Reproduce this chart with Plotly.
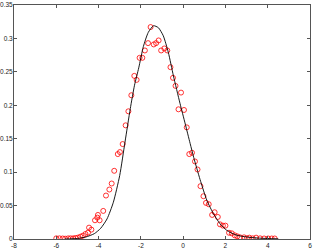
import plotly.graph_objects as go

# Data points (red circles)
data_x = [-6.0, -5.85, -5.7, -5.58, -5.44, -5.32, -5.2, -5.09, -4.98, -4.86, -4.74, -4.62, -4.5,
          -4.45, -4.34, -4.17, -4.06, -4.03, -3.95, -3.78, -3.65, -3.49, -3.38, -3.26, -3.09,
          -2.99, -2.86, -2.72, -2.59, -2.45, -2.31, -2.20, -2.06, -1.93, -1.81, -1.66, -1.54,
          -1.39, -1.28, -1.16, -1.04, -0.89, -0.75, -0.60, -0.48, -0.36, -0.22, -0.10, 0.04,
          0.17, 0.29, 0.42, 0.56, 0.68, 0.82, 0.96, 1.08, 1.21, 1.37, 1.49, 1.64, 1.74, 1.88,
          2.00, 2.17, 2.30, 2.44, 2.56, 2.69, 2.88, 3.01, 3.13, 3.29, 3.45, 3.64, 3.83, 4.02,
          4.19, 4.33]
data_y = [0.001, 0.001, 0.0008, 0.0005, 0.001, 0.001, 0.001, 0.0015, 0.002, 0.0035, 0.005, 0.0075, 0.0095,
          0.017, 0.014, 0.028, 0.032, 0.036, 0.028, 0.042, 0.065, 0.074, 0.083, 0.102, 0.127,
          0.130, 0.142, 0.170, 0.191, 0.215, 0.244, 0.238, 0.271, 0.271, 0.282, 0.293, 0.317,
          0.291, 0.293, 0.297, 0.282, 0.285, 0.282, 0.257, 0.241, 0.229, 0.194, 0.219, 0.193,
          0.167, 0.127, 0.129, 0.116, 0.104, 0.079, 0.064, 0.054, 0.052, 0.036, 0.040, 0.033,
          0.022, 0.020, 0.020, 0.0093, 0.0085, 0.0055, 0.004, 0.0025, 0.0025, 0.001, 0.002,
          0.001, 0.002, 0.001, 0.0008, 0.0008, 0.0008, 0.0008]

# Fitted curve (black line)
curve_x = [-5.6, -5.0, -4.6, -4.2, -3.9, -3.6, -3.3, -3.0, -2.75, -2.5, -2.3, -2.1, -1.88,
           -1.65, -1.4, -1.17, -0.94, -0.7, -0.46, -0.15, 0.1, 0.33, 0.5, 0.8, 1.12, 1.43,
           1.74, 2.06, 2.5, 3.0, 3.5, 4.0, 4.5]
curve_y = [0.0, 0.0008, 0.003, 0.008, 0.016, 0.030, 0.055, 0.095, 0.145, 0.195, 0.230, 0.256, 0.288,
           0.309, 0.319, 0.316, 0.304, 0.279, 0.244, 0.203, 0.172, 0.143, 0.122, 0.089, 0.058, 0.038,
           0.023, 0.013, 0.006, 0.003, 0.0015, 0.0007, 0.0003]

x_ticks = [-8, -6, -4, -2, 0, 2, 4, 6]
y_ticks = [0, 0.05, 0.1, 0.15, 0.2, 0.25, 0.3, 0.35]
y_tick_labels = ["0", "0.05", "0.1", "0.15", "0.2", "0.25", "0.3", "0.35"]

fig = go.Figure()
fig.add_trace(go.Scatter(x=data_x, y=data_y, mode="markers",
                         marker=dict(symbol="circle-open", size=5, color="#ff0000",
                                     line=dict(width=0.8, color="#ff0000")),
                         showlegend=False, hoverinfo="skip"))
fig.add_trace(go.Scatter(x=curve_x, y=curve_y, mode="lines",
                         line=dict(color="#000000", width=0.9, shape="spline", smoothing=0.6),
                         showlegend=False, hoverinfo="skip"))

axis_common = dict(showgrid=False, zeroline=False, showline=True, linecolor="#555555", linewidth=1,
                   mirror="allticks", ticks="inside", ticklen=3, tickcolor="#555555", automargin=False,
                   tickfont=dict(family="Liberation Sans, Arial, sans-serif", size=6.5, color="#222222"))
fig.update_xaxes(range=[-8, 6], tickvals=x_ticks, ticktext=[str(v) for v in x_ticks], **axis_common)
fig.update_yaxes(range=[0, 0.35], tickvals=y_ticks, ticktext=y_tick_labels,
                 ticklabelstandoff=-1, **axis_common)

fig.update_layout(width=316, height=250, margin=dict(l=14, r=6, t=5, b=11, autoexpand=False),
                  plot_bgcolor="white", paper_bgcolor="white")
fig.write_html("out.html", config={"displayModeBar": False, "staticPlot": True},
               post_script="document.body.style.margin='0';document.body.style.overflow='hidden';")
